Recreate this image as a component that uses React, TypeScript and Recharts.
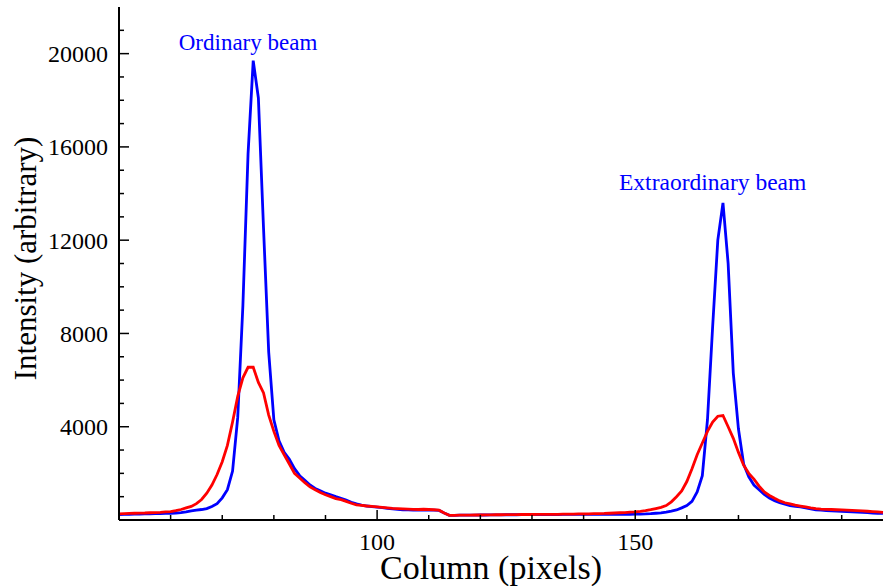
import React from 'react';
import { LineChart, Line, XAxis, YAxis, ReferenceDot, Label } from 'recharts';

const columns = [
  50, 51, 52, 53, 54, 55, 56, 57, 58, 59,
  60, 61, 62, 63, 64, 65, 66, 67, 68, 69,
  70, 71, 72, 73, 74, 75, 76, 77, 78, 79,
  80, 81, 82, 83, 84, 85, 86, 87, 88, 89,
  90, 91, 92, 93, 94, 95, 96, 97, 98, 99,
  100, 101, 102, 103, 104, 105, 106, 107, 108, 109,
  110, 111, 112, 113, 114, 115, 116, 117, 118, 119,
  120, 121, 122, 123, 124, 125, 126, 127, 128, 129,
  130, 131, 132, 133, 134, 135, 136, 137, 138, 139,
  140, 141, 142, 143, 144, 145, 146, 147, 148, 149,
  150, 151, 152, 153, 154, 155, 156, 157, 158, 159,
  160, 161, 162, 163, 164, 165, 166, 167, 168, 169,
  170, 171, 172, 173, 174, 175, 176, 177, 178, 179,
  180, 181, 182, 183, 184, 185, 186, 187, 188, 189,
  190, 191, 192, 193, 194, 195, 196, 197, 198,
];

// blue trace
const blueIntensity = [
  235, 240, 245, 250, 255, 260, 265, 270, 275, 280,
  290, 300, 320, 350, 390, 420, 450, 490, 580, 700,
  950, 1300, 2100, 4400, 9200, 15700, 19700, 18100, 12500, 7200,
  4300, 3400, 2900, 2600, 2200, 1900, 1700, 1500, 1350, 1250,
  1150, 1080, 1000, 930, 850, 760, 690, 640, 600, 570,
  550, 530, 500, 480, 460, 440, 430, 420, 420, 420,
  420, 420, 410, 300, 200, 200, 205, 205, 210, 210,
  215, 215, 220, 220, 220, 225, 225, 225, 230, 230,
  230, 230, 235, 235, 235, 235, 240, 240, 240, 240,
  240, 240, 245, 245, 245, 245, 245, 245, 245, 245,
  250, 255, 260, 270, 290, 310, 340, 380, 430, 520,
  620, 800, 1200, 1900, 4300, 8300, 12000, 13600, 11000, 6300,
  3900, 2400, 1850, 1500, 1300, 1100, 940, 830, 740, 680,
  620, 580, 560, 520, 480, 440, 420, 400, 390, 380,
  370, 360, 350, 340, 330, 320, 300, 290, 280,
];

// red trace
const redIntensity = [
  265, 275, 285, 290, 295, 300, 310, 320, 330, 345,
  360, 400, 450, 520, 580, 700, 880, 1150, 1500, 1950,
  2500, 3200, 4200, 5300, 6100, 6550, 6550, 5900, 5450, 4500,
  3800, 3200, 2800, 2400, 2000, 1800, 1600, 1420, 1300, 1180,
  1080, 1000, 920, 870, 800, 720, 650, 630, 600, 580,
  560, 540, 520, 500, 490, 480, 470, 460, 450, 460,
  450, 440, 420, 300, 200, 200, 205, 210, 210, 215,
  215, 220, 220, 225, 225, 230, 230, 230, 235, 235,
  235, 240, 240, 240, 245, 245, 250, 250, 255, 260,
  260, 265, 270, 275, 280, 290, 300, 310, 320, 335,
  350, 370, 400, 440, 490, 540, 620, 780, 1000, 1250,
  1650, 2200, 2800, 3300, 3800, 4200, 4450, 4480, 4000, 3500,
  2900, 2350, 2000, 1750, 1450, 1200, 1050, 930, 820, 740,
  690, 640, 600, 560, 520, 490, 470, 460, 450, 440,
  430, 420, 410, 400, 390, 375, 360, 345, 330,
];

const xTicks = [60, 70, 80, 90, 100, 110, 120, 130, 140, 150, 160, 170, 180, 190];
const xLabelled = [100, 150];
const yTicks = [
  1000, 2000, 3000, 4000, 5000, 6000, 7000, 8000, 9000, 10000, 11000,
  12000, 13000, 14000, 15000, 16000, 17000, 18000, 19000, 20000, 21000,
];
const yLabelled = [4000, 8000, 12000, 16000, 20000];

const data = columns.map((column, i) => ({
  column,
  blue: blueIntensity[i],
  red: redIntensity[i],
}));

const FONT = '"Liberation Serif", "Times New Roman", serif';

const BottomTick = ({ x, y, payload }: any) => {
  const major = xLabelled.includes(payload.value);
  return (
    <g>
      <line x1={x} x2={x} y1={y} y2={y - (major ? 10 : 5)} stroke="#000" strokeWidth={1.5} />
      {major && (
        <text x={x} y={y + 30} textAnchor="middle" fontSize={24} fontFamily={FONT} fill="#000">
          {payload.value}
        </text>
      )}
    </g>
  );
};

const TopTick = ({ x, y, payload }: any) => {
  const major = xLabelled.includes(payload.value);
  return <line x1={x} x2={x} y1={y} y2={y + (major ? 10 : 5)} stroke="#000" strokeWidth={1.5} />;
};

const LeftTick = ({ x, y, payload }: any) => {
  const major = yLabelled.includes(payload.value);
  return (
    <g>
      <line x1={x} x2={x + (major ? 10 : 5)} y1={y} y2={y} stroke="#000" strokeWidth={1.5} />
      {major && (
        <text x={x - 11} y={y} dy="0.35em" textAnchor="end" fontSize={24} fontFamily={FONT} fill="#000">
          {payload.value}
        </text>
      )}
    </g>
  );
};

const RightTick = ({ x, y, payload }: any) => {
  const major = yLabelled.includes(payload.value);
  return <line x1={x} x2={x - (major ? 10 : 5)} y1={y} y2={y} stroke="#000" strokeWidth={1.5} />;
};

const axisLine = { stroke: '#000', strokeWidth: 2 };

export default function App() {
  return (
    <div style={{ width: 884, height: 586 }}>
      <style>{`body { margin: 0; }`}</style>
      <LineChart width={884} height={586} data={data} margin={{ top: 7, right: 1, bottom: 0, left: 0 }}>
        <XAxis
          xAxisId="bottom"
          dataKey="column"
          type="number"
          domain={[50, 198]}
          ticks={xTicks}
          interval={0}
          height={66}
          tickSize={0}
          tickMargin={0}
          tickLine={false}
          axisLine={axisLine}
          tick={<BottomTick />}
        >
          <Label
            content={({ viewBox }: any) => (
              <text
                x={viewBox.x + viewBox.width / 2 - 10}
                y={viewBox.y + 59}
                textAnchor="middle"
                fontSize={34}
                fontFamily={FONT}
                fill="#000"
              >
                Column (pixels)
              </text>
            )}
          />
        </XAxis>
        <XAxis
          xAxisId="top"
          orientation="top"
          dataKey="column"
          type="number"
          domain={[50, 198]}
          ticks={xTicks}
          interval={0}
          height={0}
          tickSize={0}
          tickMargin={0}
          tickLine={false}
          axisLine={axisLine}
          tick={<TopTick />}
        />
        <YAxis
          yAxisId="left"
          type="number"
          domain={[0, 22000]}
          ticks={yTicks}
          interval={0}
          width={119}
          tickSize={0}
          tickMargin={0}
          tickLine={false}
          axisLine={axisLine}
          tick={<LeftTick />}
        >
          <Label
            content={({ viewBox }: any) => (
              <text
                transform={`translate(${viewBox.x + 36}, ${viewBox.y + viewBox.height / 2 - 5}) rotate(-90)`}
                textAnchor="middle"
                fontSize={31}
                fontFamily={FONT}
                fill="#000"
              >
                Intensity (arbitrary)
              </text>
            )}
          />
        </YAxis>
        <YAxis
          yAxisId="right"
          orientation="right"
          type="number"
          domain={[0, 22000]}
          ticks={yTicks}
          interval={0}
          width={0}
          tickSize={0}
          tickMargin={0}
          tickLine={false}
          axisLine={axisLine}
          tick={<RightTick />}
        />
        <Line
          xAxisId="bottom"
          yAxisId="left"
          type="linear"
          dataKey="blue"
          stroke="#0000ff"
          strokeWidth={2.8}
          dot={false}
          isAnimationActive={false}
        />
        <Line
          xAxisId="bottom"
          yAxisId="left"
          type="linear"
          dataKey="red"
          stroke="#ff0000"
          strokeWidth={2.8}
          dot={false}
          isAnimationActive={false}
        />
        <ReferenceDot
          xAxisId="bottom"
          yAxisId="left"
          x={75}
          y={20500}
          r={0}
          label={{ value: 'Ordinary beam', position: 'center', fill: '#0000ff', fontSize: 23, fontFamily: FONT }}
        />
        <ReferenceDot
          xAxisId="bottom"
          yAxisId="left"
          x={165}
          y={14500}
          r={0}
          label={{ value: 'Extraordinary beam', position: 'center', fill: '#0000ff', fontSize: 23.5, fontFamily: FONT }}
        />
      </LineChart>
    </div>
  );
}
